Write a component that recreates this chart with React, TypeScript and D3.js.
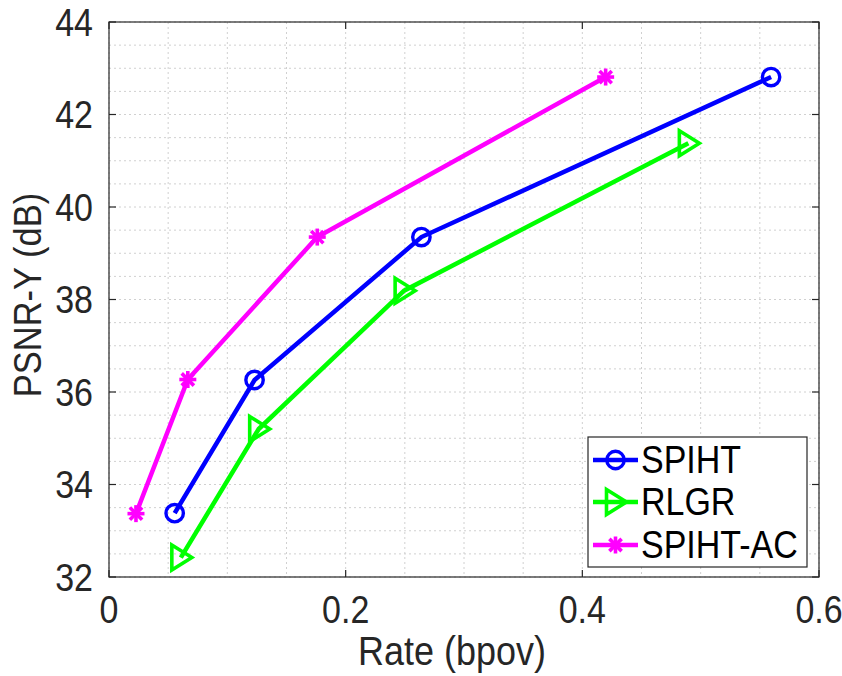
import React from "react";
import * as d3 from "d3";

const seriesNames = ["SPIHT", "RLGR", "SPIHT-AC"];
const seriesColors = ["#0000ff", "#00ff00", "#ff00ff"];
const spihtRate = [0.0555, 0.123, 0.264, 0.5595];
const spihtPsnr = [33.38, 36.26, 39.35, 42.81];
const rlgrRate = [0.0607, 0.1265, 0.2494, 0.4896];
const rlgrPsnr = [32.42, 35.2, 38.19, 41.38];
const acRate = [0.0228, 0.0666, 0.176, 0.4197];
const acPsnr = [33.37, 36.27, 39.35, 42.81];
const xTicks = [0, 0.2, 0.4, 0.6];
const yTicks = [32, 34, 36, 38, 40, 42, 44];
const xGrid = d3.range(0, 0.6001, 0.05);
const yGrid = d3.range(32, 44.001, 0.5);

const W = 842, H = 676;
const L = 109, R = 819, T = 22, B = 577;
const font = "'Liberation Sans', Arial, Helvetica, sans-serif";
const STRETCH = 1.12;

function Marker({ kind, x, y, color }: { kind: number; x: number; y: number; color: string }) {
  if (kind === 0) {
    return <circle cx={x} cy={y} r={8.7} fill="none" stroke={color} strokeWidth={3.4} />;
  }
  if (kind === 1) {
    const p = d3.path();
    p.moveTo(x - 9, y - 12.5);
    p.lineTo(x + 11, y);
    p.lineTo(x - 9, y + 12.5);
    p.closePath();
    return <path d={p.toString()} fill="none" stroke={color} strokeWidth={3.6} strokeLinejoin="miter" />;
  }
  const s = 8.5;
  const d = s * 0.72;
  return (
    <g stroke={color} strokeWidth={3.6} strokeLinecap="butt">
      <line x1={x - s} y1={y} x2={x + s} y2={y} />
      <line x1={x} y1={y - s} x2={x} y2={y + s} />
      <line x1={x - d} y1={y - d} x2={x + d} y2={y + d} />
      <line x1={x - d} y1={y + d} x2={x + d} y2={y - d} />
    </g>
  );
}

function T2({ x, y, anchor, size, fill, rotate, children }: any) {
  const tr = `translate(${x},${y})${rotate ? ` rotate(${rotate})` : ""} scale(1,${STRETCH})`;
  return (
    <text transform={tr} textAnchor={anchor || "start"} fontSize={size} fill={fill}>
      {children}
    </text>
  );
}

export default function App() {
  const x = d3.scaleLinear().domain([0, 0.6]).range([L, R]);
  const y = d3.scaleLinear().domain([32, 44]).range([B, T]);
  const series = [
    { name: seriesNames[0], color: seriesColors[0], xs: spihtRate, ys: spihtPsnr },
    { name: seriesNames[1], color: seriesColors[1], xs: rlgrRate, ys: rlgrPsnr },
    { name: seriesNames[2], color: seriesColors[2], xs: acRate, ys: acPsnr },
  ];
  const line = d3.line<[number, number]>().x((d) => x(d[0])).y((d) => y(d[1]));
  const axisColor = "#262626";
  const tickLen = 7;
  const legX = 588, legY = 437, legW = 219, legH = 130;
  const rowY = [460, 502, 545];

  return (
    <svg width={W} height={H} style={{ position: "absolute", left: 0, top: 0, background: "#fff" }} fontFamily={font}>
      <rect x={0} y={0} width={W} height={H} fill="#fff" />
      <g stroke="#d0d0d0" strokeWidth={1} strokeDasharray="2,3">
        {xGrid.map((v, i) => (
          <line key={"xg" + i} x1={x(v)} x2={x(v)} y1={T} y2={B} />
        ))}
        {yGrid.map((v, i) => (
          <line key={"yg" + i} x1={L} x2={R} y1={y(v)} y2={y(v)} />
        ))}
      </g>
      <g stroke={axisColor} strokeWidth={1.2}>
        {xTicks.map((v, i) => (
          <g key={"xt" + i}>
            <line x1={x(v)} x2={x(v)} y1={B} y2={B - tickLen} />
            <line x1={x(v)} x2={x(v)} y1={T} y2={T + tickLen} />
          </g>
        ))}
        {yTicks.map((v, i) => (
          <g key={"yt" + i}>
            <line x1={L} x2={L + tickLen} y1={y(v)} y2={y(v)} />
            <line x1={R} x2={R - tickLen} y1={y(v)} y2={y(v)} />
          </g>
        ))}
      </g>
      {series.map((s, si) => {
        const pts: [number, number][] = s.xs.map((v, i) => [v, s.ys[i]]);
        return (
          <g key={s.name}>
            <path d={line(pts) || ""} fill="none" stroke={s.color} strokeWidth={4.5} />
            {pts.map((p, i) => (
              <Marker key={i} kind={si} x={x(p[0])} y={y(p[1])} color={s.color} />
            ))}
          </g>
        );
      })}
      <rect x={L} y={T} width={R - L} height={B - T} fill="none" stroke={axisColor} strokeWidth={1.2} />
      <g>
        {xTicks.map((v, i) => (
          <T2 key={"xl" + i} x={x(v)} y={623} anchor="middle" size={34} fill={axisColor}>
            {d3.format("")(v)}
          </T2>
        ))}
        {yTicks.map((v, i) => (
          <T2 key={"yl" + i} x={93} y={y(v) + 13.5} anchor="end" size={34} fill={axisColor}>
            {v}
          </T2>
        ))}
        <T2 x={452} y={665} anchor="middle" size={36} fill={axisColor}>
          Rate (bpov)
        </T2>
        <T2 x={41} y={295} anchor="middle" size={34.5} fill={axisColor} rotate={-90}>
          PSNR-Y (dB)
        </T2>
      </g>
      <rect x={legX} y={legY} width={legW} height={legH} fill="#fff" stroke={axisColor} strokeWidth={1.2} />
      {series.map((s, si) => (
        <g key={"leg" + si}>
          <line x1={593} x2={638} y1={rowY[si]} y2={rowY[si]} stroke={s.color} strokeWidth={4.5} />
          <Marker kind={si} x={615.5} y={rowY[si]} color={s.color} />
          <T2 x={641} y={rowY[si] + 12.5} size={34} fill="#000">
            {s.name}
          </T2>
        </g>
      ))}
    </svg>
  );
}
